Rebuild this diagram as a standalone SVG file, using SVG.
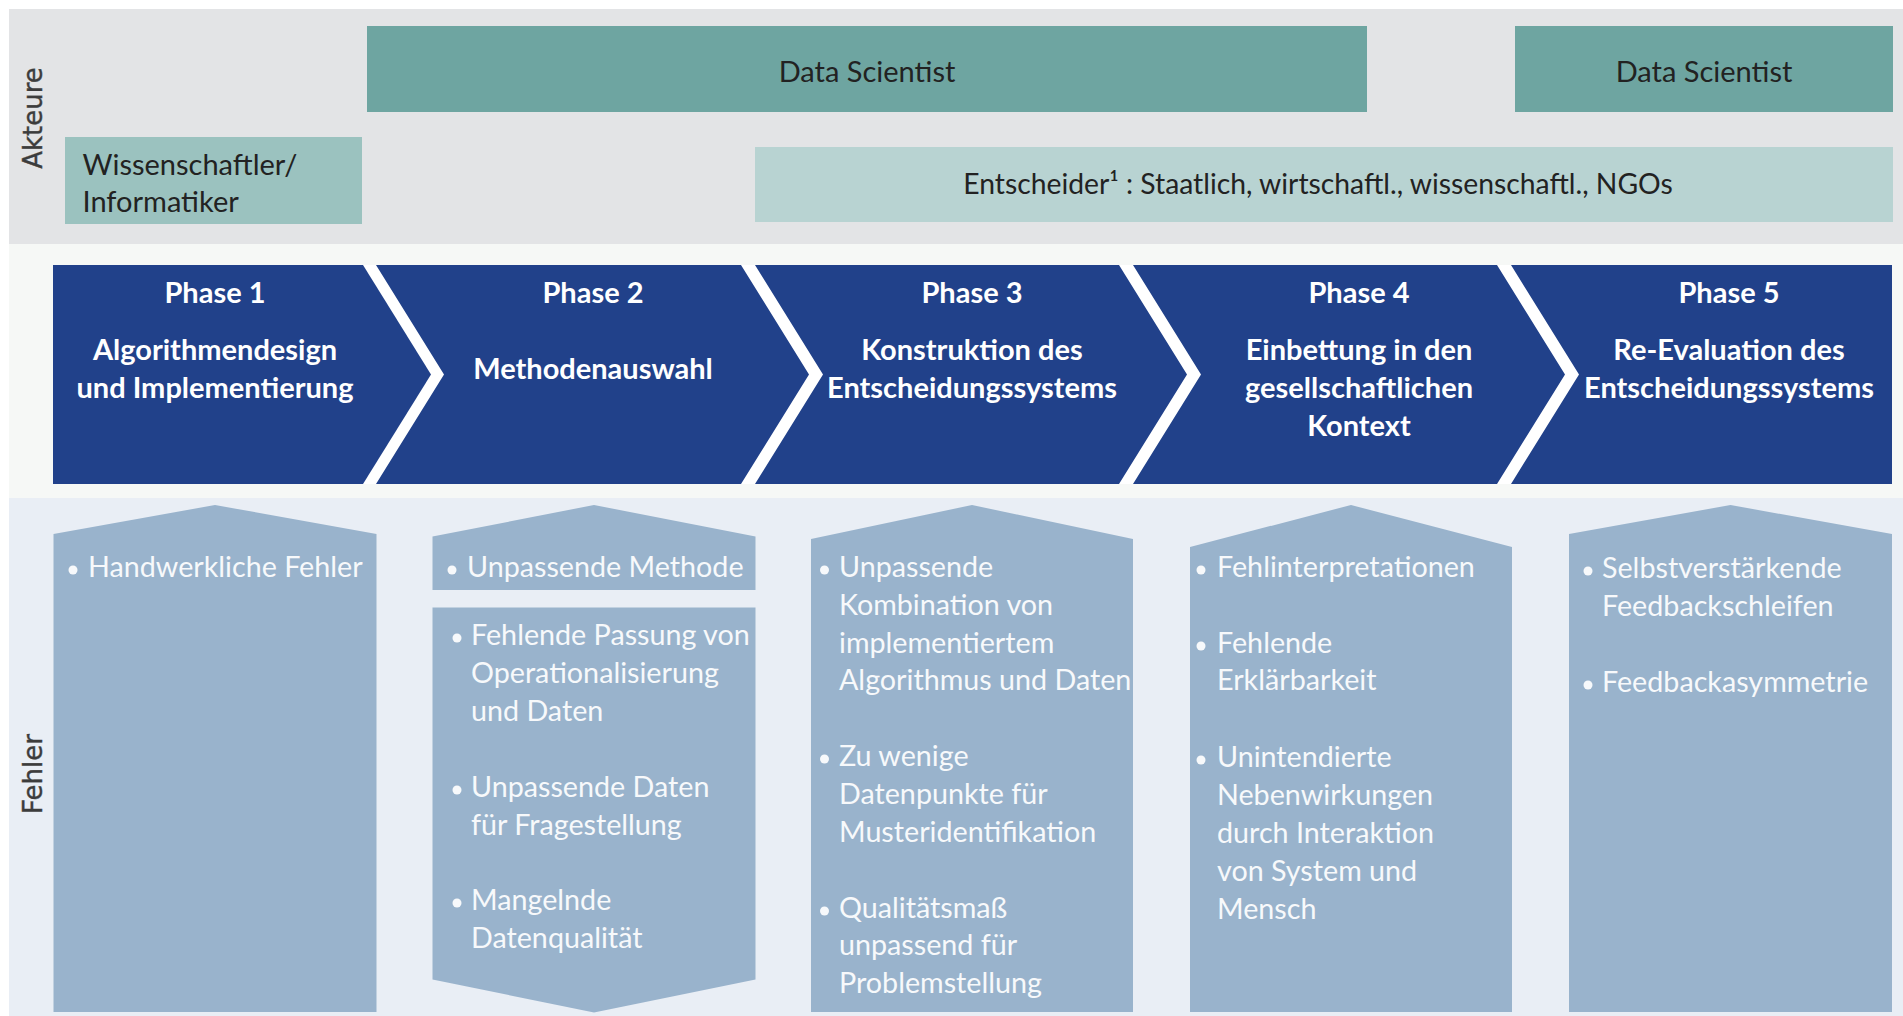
<svg xmlns="http://www.w3.org/2000/svg" width="1903" height="1016" viewBox="0 0 1903 1016">
  <style>
    .band-actors { fill: #e3e4e6; }
    .band-phases { fill: #f6f8f6; }
    .band-errors { fill: #e9eef5; }
    .lane-label { font-family: "DejaVu Sans", sans-serif; font-size: 26px; fill: #3c3c3c; stroke: #3c3c3c; stroke-width: 0.4px; text-anchor: middle; }
    .actor-dark { fill: #6ea5a1; }
    .actor-mid { fill: #9bc2bf; }
    .actor-light { fill: #b8d3d2; }
    .actor-text { font-family: Lato, "Liberation Sans", sans-serif; font-size: 29px; fill: #222222; }
    .phase { fill: #21418a; }
    .phase-text { font-family: Lato, "Liberation Sans", sans-serif; font-weight: bold; font-size: 29px; fill: #ffffff; text-anchor: middle; }
    .col { fill: #99b3cc; }
    .item { font-family: Lato, "Liberation Sans", sans-serif; font-size: 28.7px; fill: #f7f9fb; }
    .dot { fill: #f7f9fb; }
  </style>

  <!-- background bands -->
  <rect class="band-actors" x="9" y="9" width="1894" height="235"/>
  <rect class="band-phases" x="9" y="244" width="1894" height="254"/>
  <rect class="band-errors" x="9" y="498" width="1894" height="518"/>

  <text class="lane-label" transform="translate(42,118) rotate(-90)">Akteure</text>
  <text class="lane-label" transform="translate(42,774) rotate(-90)">Fehler</text>

  <!-- actors -->
  <g id="actor-data-scientist-1">
    <rect class="actor-dark" x="367" y="26" width="1000" height="86"/>
    <text class="actor-text" x="867" y="82" text-anchor="middle">Data Scientist</text>
  </g>
  <g id="actor-data-scientist-2">
    <rect class="actor-dark" x="1515" y="26" width="378" height="86"/>
    <text class="actor-text" x="1704" y="82" text-anchor="middle">Data Scientist</text>
  </g>
  <g id="actor-wissenschaftler">
    <rect class="actor-mid" x="65" y="137" width="297" height="87"/>
    <text class="actor-text" x="82.5" y="175">Wissenschaftler/</text>
    <text class="actor-text" x="82.5" y="212">Informatiker</text>
  </g>
  <g id="actor-entscheider">
    <rect class="actor-light" x="755" y="147" width="1138" height="75"/>
    <text class="actor-text" x="1318" y="194" text-anchor="middle" style="font-size:28.3px">Entscheider¹ : Staatlich, wirtschaftl., wissenschaftl., NGOs</text>
  </g>

  <!-- phase chevrons; the white base shows through the gaps -->
  <rect x="53" y="265" width="1839" height="219" fill="#ffffff"/>
  <g id="phase-1">
    <polygon class="phase" points="53,265 363,265 431,374.5 363,484 53,484"/>
    <text class="phase-text" x="215" y="303">Phase 1</text>
    <text class="phase-text" x="215" y="360">Algorithmendesign</text>
    <text class="phase-text" x="215" y="398">und Implementierung</text>
  </g>
  <g id="phase-2">
    <polygon class="phase" points="376,265 741,265 809,374.5 741,484 376,484 444,374.5"/>
    <text class="phase-text" x="593" y="303">Phase 2</text>
    <text class="phase-text" x="593" y="379">Methodenauswahl</text>
  </g>
  <g id="phase-3">
    <polygon class="phase" points="755,265 1119,265 1187,374.5 1119,484 755,484 823,374.5"/>
    <text class="phase-text" x="972" y="303">Phase 3</text>
    <text class="phase-text" x="972" y="360">Konstruktion des</text>
    <text class="phase-text" x="972" y="398">Entscheidungssystems</text>
  </g>
  <g id="phase-4">
    <polygon class="phase" points="1133,265 1497,265 1565,374.5 1497,484 1133,484 1201,374.5"/>
    <text class="phase-text" x="1359" y="303">Phase 4</text>
    <text class="phase-text" x="1359" y="360">Einbettung in den</text>
    <text class="phase-text" x="1359" y="398">gesellschaftlichen</text>
    <text class="phase-text" x="1359" y="436">Kontext</text>
  </g>
  <g id="phase-5">
    <polygon class="phase" points="1511,265 1892,265 1892,484 1511,484 1579,374.5"/>
    <text class="phase-text" x="1729" y="303">Phase 5</text>
    <text class="phase-text" x="1729" y="360">Re-Evaluation des</text>
    <text class="phase-text" x="1729" y="398">Entscheidungssystems</text>
  </g>

  <!-- error columns -->
  <g id="errors-phase-1">
    <polygon class="col" points="53.5,534 215,505 376.5,534 376.5,1012 53.5,1012"/>
    <circle class="dot" cx="73" cy="570" r="4.5"/>
    <text class="item" x="88" y="577">Handwerkliche Fehler</text>
  </g>
  <g id="errors-phase-2-method">
    <polygon class="col" points="432.5,536.5 594,505 755.5,536.5 755.5,590 432.5,590"/>
    <circle class="dot" cx="452" cy="570" r="4.5"/>
    <text class="item" x="467" y="577">Unpassende Methode</text>
  </g>
  <g id="errors-phase-2-data">
    <polygon class="col" points="432.5,607.5 755.5,607.5 755.5,979.5 594,1012.5 432.5,979.5"/>
    <circle class="dot" cx="457" cy="638" r="4.5"/>
    <text class="item" x="471" y="645">Fehlende Passung von</text>
    <text class="item" x="471" y="683">Operationalisierung</text>
    <text class="item" x="471" y="721">und Daten</text>
    <circle class="dot" cx="457" cy="790" r="4.5"/>
    <text class="item" x="471" y="797">Unpassende Daten</text>
    <text class="item" x="471" y="835">für Fragestellung</text>
    <circle class="dot" cx="457" cy="903" r="4.5"/>
    <text class="item" x="471" y="910">Mangelnde</text>
    <text class="item" x="471" y="948">Datenqualität</text>
  </g>
  <g id="errors-phase-3">
    <polygon class="col" points="811,539 972,505 1133,539 1133,1012 811,1012"/>
    <circle class="dot" cx="824.5" cy="570" r="4.5"/>
    <text class="item" x="839" y="577">Unpassende</text>
    <text class="item" x="839" y="615">Kombination von</text>
    <text class="item" x="839" y="653">implementiertem</text>
    <text class="item" x="839" y="690">Algorithmus und Daten</text>
    <circle class="dot" cx="824.5" cy="759" r="4.5"/>
    <text class="item" x="839" y="766">Zu wenige</text>
    <text class="item" x="839" y="804">Datenpunkte für</text>
    <text class="item" x="839" y="842">Musteridentifikation</text>
    <circle class="dot" cx="824.5" cy="911" r="4.5"/>
    <text class="item" x="839" y="918">Qualitätsmaß</text>
    <text class="item" x="839" y="955">unpassend für</text>
    <text class="item" x="839" y="993">Problemstellung</text>
  </g>
  <g id="errors-phase-4">
    <polygon class="col" points="1190,547 1351,505 1512,547 1512,1012 1190,1012"/>
    <circle class="dot" cx="1201" cy="570" r="4.5"/>
    <text class="item" x="1217" y="577">Fehlinterpretationen</text>
    <circle class="dot" cx="1201" cy="646" r="4.5"/>
    <text class="item" x="1217" y="653">Fehlende</text>
    <text class="item" x="1217" y="690">Erklärbarkeit</text>
    <circle class="dot" cx="1201" cy="760" r="4.5"/>
    <text class="item" x="1217" y="767">Unintendierte</text>
    <text class="item" x="1217" y="805">Nebenwirkungen</text>
    <text class="item" x="1217" y="843">durch Interaktion</text>
    <text class="item" x="1217" y="880.5">von System und</text>
    <text class="item" x="1217" y="918.5">Mensch</text>
  </g>
  <g id="errors-phase-5">
    <polygon class="col" points="1569,534 1730.5,505 1892,534 1892,1012 1569,1012"/>
    <circle class="dot" cx="1588" cy="571" r="4.5"/>
    <text class="item" x="1602" y="578">Selbstverstärkende</text>
    <text class="item" x="1602" y="616">Feedbackschleifen</text>
    <circle class="dot" cx="1588" cy="685" r="4.5"/>
    <text class="item" x="1602" y="692">Feedbackasymmetrie</text>
  </g>
</svg>
